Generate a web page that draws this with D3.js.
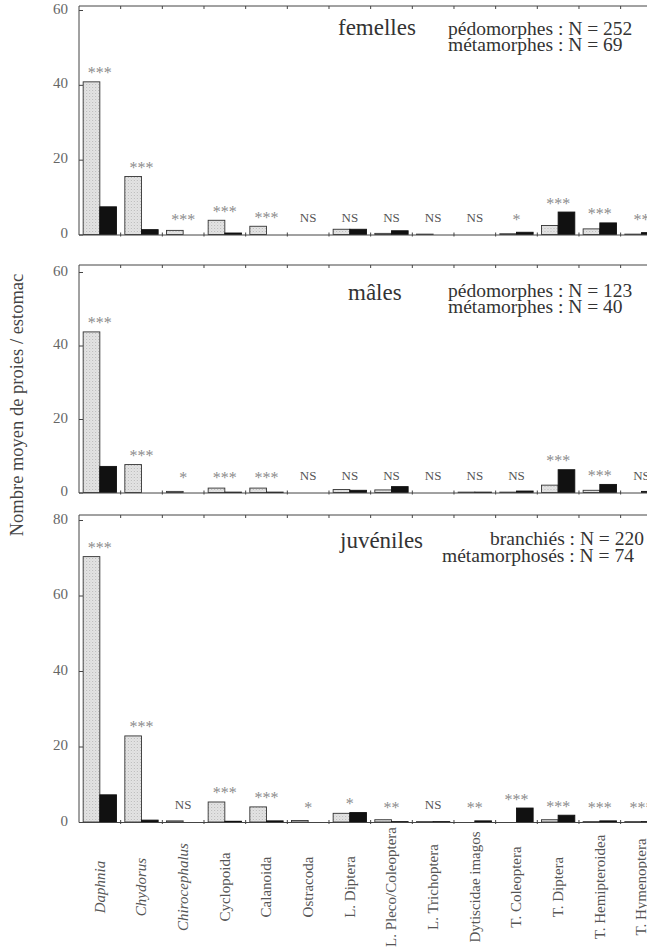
<!DOCTYPE html>
<html><head><meta charset="utf-8">
<script src="https://cdn.jsdelivr.net/npm/d3@7"></script>
<style>
html,body{margin:0;padding:0;background:#fff;overflow:hidden}
svg, svg text { font-family: "Liberation Serif", "Times New Roman", Tinos, serif !important; }
</style>
</head><body>
<script>
// ---------- DATA ----------
const categories = ["Daphnia","Chydorus","Chirocephalus","Cyclopoida","Calanoida","Ostracoda","L. Diptera","L. Pleco/Coleoptera","L. Trichoptera","Dytiscidae imagos","T. Coleoptera","T. Diptera","T. Hemipteroidea","T. Hymenoptera"];
const italicCats = ["Daphnia","Chydorus","Chirocephalus"];

const femellesPedo = [40.8, 15.5, 1.1, 3.8, 2.2, 0, 1.4, 0.3, 0.1, 0, 0.2, 2.4, 1.5, 0.1];
const femellesMeta = [7.4, 1.3, 0, 0.4, 0, 0, 1.4, 1.0, 0, 0, 0.6, 6.0, 3.1, 0.5];
const femellesSig  = ["***","***","***","***","***","NS","NS","NS","NS","NS","*","***","***","**"];

const malesPedo = [43.7, 7.6, 0.3, 1.2, 1.2, 0, 0.8, 0.7, 0, 0.1, 0.1, 2.0, 0.6, 0];
const malesMeta = [7.1, 0, 0, 0.1, 0.1, 0, 0.6, 1.6, 0, 0.1, 0.4, 6.2, 2.2, 0.3];
const malesSig  = ["***","***","*","***","***","NS","NS","NS","NS","NS","NS","***","***","NS"];

const juvBranchies = [70.3, 22.8, 0.3, 5.3, 4.0, 0.4, 2.3, 0.6, 0.1, 0, 0, 0.6, 0.1, 0.1];
const juvMetamorph = [7.2, 0.5, 0, 0.2, 0.3, 0, 2.5, 0.1, 0.1, 0.3, 3.7, 1.8, 0.3, 0.1];
const juvSig = ["***","***","NS","***","***","*","*","**","NS","**","***","***","***","***"];

const ticks60 = [0, 20, 40, 60];
const ticks80 = [0, 20, 40, 60, 80];

const panelTitles = ["femelles", "mâles", "juvéniles"];
const panelLine1 = ["pédomorphes : N = 252", "pédomorphes : N = 123", "branchiés : N = 220"];
const panelLine2 = ["métamorphes : N = 69", "métamorphes : N = 40", "métamorphosés : N = 74"];
const yAxisLabel = "Nombre moyen de proies / estomac";

// ---------- LAYOUT ----------
const W = 647, H = 949;
const svg = d3.select("body").append("svg").attr("width", W).attr("height", H);

const defs = svg.append("defs");
const pat = defs.append("pattern").attr("id","stip").attr("width",3).attr("height",3)
  .attr("patternUnits","userSpaceOnUse");
pat.append("rect").attr("width",3).attr("height",3).attr("fill","#e4e4e4");
pat.append("rect").attr("x",0).attr("y",0).attr("width",1).attr("height",1).attr("fill","#b8b8b8");
pat.append("rect").attr("x",1.5).attr("y",1.5).attr("width",1).attr("height",1).attr("fill","#cfcfcf");

const x = d3.scaleBand().domain(categories).range([79, 662.3]).paddingInner(0.2).paddingOuter(0.1);
const xIn = d3.scaleBand().domain(["a","b"]).range([0, x.bandwidth()]);
const frameL = 79, frameR = 700;

const panels = [
  {pedo: femellesPedo, meta: femellesMeta, sig: femellesSig, max: 60, ticks: ticks60,
   top: 6, base: 234.5, yTop: 10,
   title: {x: 338, y: 35}, l1: {x: 448, y: 35}, l2: {x: 448, y: 51}},
  {pedo: malesPedo, meta: malesMeta, sig: malesSig, max: 60, ticks: ticks60,
   top: 265, base: 492.5, yTop: 272,
   title: {x: 348, y: 300}, l1: {x: 448, y: 297}, l2: {x: 448, y: 313}},
  {pedo: juvBranchies, meta: juvMetamorph, sig: juvSig, max: 80, ticks: ticks80,
   top: 515, base: 822, yTop: 520,
   title: {x: 340, y: 548}, l1: {x: 490, y: 545}, l2: {x: 442, y: 562}}
];

panels.forEach((p, pi) => {
  const y = d3.scaleLinear().domain([0, p.max]).range([p.base, p.yTop]);
  const g = svg.append("g");

  const rows = categories.map((c, i) => ({c, a: p.pedo[i], b: p.meta[i], s: p.sig[i]}));
  const grp = g.selectAll("g.cat").data(rows).join("g").attr("class","cat")
    .attr("transform", d => `translate(${x(d.c)},0)`);
  grp.append("rect")
    .attr("x", xIn("a")).attr("width", xIn.bandwidth())
    .attr("y", d => y(d.a)).attr("height", d => p.base - y(d.a))
    .attr("fill", "url(#stip)").attr("stroke", "#333").attr("stroke-width", 0.9);
  grp.append("rect")
    .attr("x", xIn("b")).attr("width", xIn.bandwidth())
    .attr("y", d => y(d.b)).attr("height", d => p.base - y(d.b))
    .attr("fill", "#111").attr("stroke", "#111").attr("stroke-width", 0.9);

  grp.append("text")
    .attr("x", x.bandwidth() / 2)
    .attr("y", d => {
      const c = Math.min(y(Math.max(d.a, d.b)) - 11, p.base - 17);
      return d.s === "NS" ? c + 4.3 : c + 7.5;
    })
    .attr("text-anchor", "middle")
    .attr("font-size", d => d.s === "NS" ? 13 : 16)
    .attr("fill", d => d.s === "NS" ? "#555" : "#8c8c8c")
    .text(d => d.s);

  const fc = "#444";
  g.append("line").attr("x1", frameL).attr("x2", frameR).attr("y1", p.top).attr("y2", p.top)
    .attr("stroke", fc).attr("stroke-width", 1);
  g.append("line").attr("x1", frameL).attr("x2", frameR).attr("y1", p.base + 0.5).attr("y2", p.base + 0.5)
    .attr("stroke", fc).attr("stroke-width", 1);
  g.append("line").attr("x1", frameL).attr("x2", frameL).attr("y1", p.top).attr("y2", p.base + 0.5)
    .attr("stroke", fc).attr("stroke-width", 1);

  const bounds = categories.slice(1).map(c => x(c) - x.step() * x.paddingInner() / 2);
  g.selectAll("line.tt").data(bounds).join("line").attr("class","tt")
    .attr("x1", d => d).attr("x2", d => d).attr("y1", p.top).attr("y2", p.top + 3)
    .attr("stroke", fc).attr("stroke-width", 1);
  g.selectAll("line.bt").data(bounds).join("line").attr("class","bt")
    .attr("x1", d => d).attr("x2", d => d).attr("y1", p.base - 2).attr("y2", p.base + 2)
    .attr("stroke", fc).attr("stroke-width", 1);

  const ax = g.append("g").attr("transform", `translate(${frameL},0)`)
    .call(d3.axisLeft(y).tickValues(p.ticks).tickSize(-4).tickPadding(11).tickFormat(d3.format("d")));
  ax.attr("font-family", null);
  ax.select(".domain").remove();
  ax.selectAll(".tick line").attr("stroke", fc);
  ax.selectAll(".tick text").attr("font-size", 15).attr("fill", "#666").attr("dy", "0.2em");

  g.append("text").attr("x", p.title.x).attr("y", p.title.y).attr("font-size", 23)
    .attr("fill", "#333").text(panelTitles[pi]);
  g.append("text").attr("x", p.l1.x).attr("y", p.l1.y).attr("font-size", 19.5)
    .attr("fill", "#333").text(panelLine1[pi]);
  g.append("text").attr("x", p.l2.x).attr("y", p.l2.y).attr("font-size", 19.5)
    .attr("fill", "#333").text(panelLine2[pi]);
});

svg.append("g").selectAll("text").data(categories).join("text")
  .attr("transform", d => `translate(${x(d) + x.bandwidth() / 2 + 5},887) rotate(-90)`)
  .attr("text-anchor", "middle")
  .attr("font-size", 15)
  .attr("font-style", d => italicCats.includes(d) ? "italic" : "normal")
  .attr("fill", "#555")
  .text(d => d);

svg.append("text")
  .attr("transform", "translate(23,405) rotate(-90)")
  .attr("text-anchor", "middle")
  .attr("font-size", 18.5)
  .attr("fill", "#444")
  .text(yAxisLabel);
</script>
</body></html>
